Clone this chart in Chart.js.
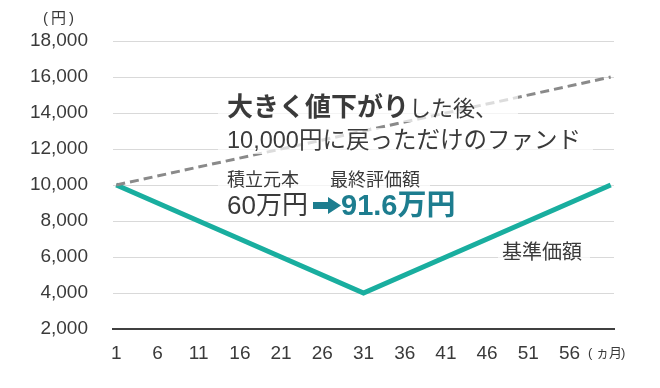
<!DOCTYPE html>
<html>
<head>
<meta charset="utf-8">
<script src="https://cdn.jsdelivr.net/npm/chart.js@4/dist/chart.umd.min.js"></script>
<style>
  html, body { margin: 0; padding: 0; background: #fff; }
  #wrap { width: 660px; height: 388px; }
</style>
</head>
<body>
<div id="wrap"><canvas id="fundChart" width="660" height="388"></canvas></div>
<script>
// chart values
const navMonths = [1, 31, 61];
const navValues = [10000, 4000, 10000];
const lineMonths = [1, 61];
const lineValues = [10000, 16000];
const xTickLabels = [1, 6, 11, 16, 21, 26, 31, 36, 41, 46, 51, 56];
const yMin = 2000;
const yMax = 18000;
const yStep = 2000;

const TEAL = '#19ae9f';
const DEEP = '#1d7d8f';
const TEXT = '#3a3a3a';
const JP = '"Liberation Sans", "Noto Sans CJK JP", sans-serif';

function toPoints(xs, ys) {
    return xs.map((x, i) => ({ x: x, y: ys[i] }));
}

// Text overlay with soft white boxes behind
const notes = {
    id: 'notes',
    afterDatasetsDraw(chart) {
        const ctx = chart.ctx;
        ctx.save();
        ctx.fillStyle = 'rgba(255,255,255,0.7)';
        ctx.fillRect(218, 96, 300, 26);
        ctx.fillRect(218, 128, 375, 26);
        ctx.fillRect(218, 172, 212, 18);
        ctx.fillRect(218, 194, 244, 27);
        ctx.fillRect(498, 242, 92, 22);

        ctx.textBaseline = 'middle';
        ctx.textAlign = 'left';
        ctx.fillStyle = TEXT;

        // line 1
        ctx.font = 'bold 26px ' + JP;
        ctx.fillText('大きく値下がり', 227, 109);
        let w = ctx.measureText('大きく値下がり').width;
        ctx.font = '22px ' + JP;
        ctx.fillText('した後、', 227 + w, 110);

        // line 2
        ctx.font = '23.5px ' + JP;
        ctx.fillText('10,000円に戻っただけのファンド', 227, 142);

        // labels
        ctx.font = '18px ' + JP;
        ctx.fillText('積立元本', 227, 181);
        ctx.fillText('最終評価額', 330, 181);

        // amounts
        ctx.font = '26px ' + JP;
        ctx.fillText('60万円', 227, 207);

        // arrow
        ctx.fillStyle = DEEP;
        ctx.beginPath();
        ctx.moveTo(313, 202);
        ctx.lineTo(328, 202);
        ctx.lineTo(328, 197);
        ctx.lineTo(341, 205.5);
        ctx.lineTo(328, 214);
        ctx.lineTo(328, 209);
        ctx.lineTo(313, 209);
        ctx.closePath();
        ctx.fill();

        ctx.font = 'bold 29px ' + JP;
        ctx.fillText('91.6万円', 341, 207);

        // series label
        ctx.fillStyle = TEXT;
        ctx.font = '20px ' + JP;
        ctx.fillText('基準価額', 502, 253);

        // axis units
        ctx.font = '15px ' + JP;
        ctx.fillText('(', 43, 19);
        ctx.fillText('円', 51, 19);
        ctx.fillText(')', 69, 19);
        ctx.font = '13px ' + JP;
        ctx.fillText('(', 588, 353);
        ctx.fillText('ヵ月', 596, 353);
        ctx.fillText(')', 621, 353);
        ctx.restore();
    }
};

window.onload = () => {
    const ctx = document.getElementById('fundChart').getContext('2d');
    new Chart(ctx, {
        type: 'line',
        data: {
            datasets: [
                {
                    label: '積立元本',
                    data: toPoints(lineMonths, lineValues),
                    borderColor: '#8a8a8a',
                    borderWidth: 3,
                    borderDash: [9, 5],
                    pointRadius: 0,
                    fill: false,
                },
                {
                    label: '基準価額',
                    data: toPoints(navMonths, navValues),
                    borderColor: TEAL,
                    borderWidth: 5,
                    borderJoinStyle: 'miter',
                    pointRadius: 0,
                    fill: false,
                },
            ],
        },
        options: {
            responsive: false,
            animation: false,
            layout: { padding: { left: 0, right: 46, top: 41, bottom: 0 } },
            plugins: {
                legend: { display: false },
                tooltip: { enabled: false },
            },
            scales: {
                x: {
                    type: 'linear',
                    min: 0.6,
                    max: 61.4,
                    afterBuildTicks: (scale) => {
                        scale.ticks = xTickLabels.map(v => ({ value: v }));
                    },
                    afterFit: (scale) => { scale.height = 59; },
                    grid: { display: false },
                    border: { display: true, color: '#404040', width: 2 },
                    ticks: {
                        autoSkip: false,
                        maxRotation: 0,
                        padding: 5,
                        color: TEXT,
                        font: { size: 19, family: JP },
                    },
                },
                y: {
                    min: yMin,
                    max: yMax,
                    afterFit: (scale) => { scale.width = 113; },
                    grid: { color: '#d9d9d9', lineWidth: 1, drawTicks: false },
                    border: { display: false },
                    ticks: {
                        stepSize: yStep,
                        padding: 25,
                        color: TEXT,
                        font: { size: 19, family: JP },
                        callback: (v) => v.toLocaleString('en-US'),
                    },
                },
            },
        },
        plugins: [notes],
    });
};
</script>
</body>
</html>
